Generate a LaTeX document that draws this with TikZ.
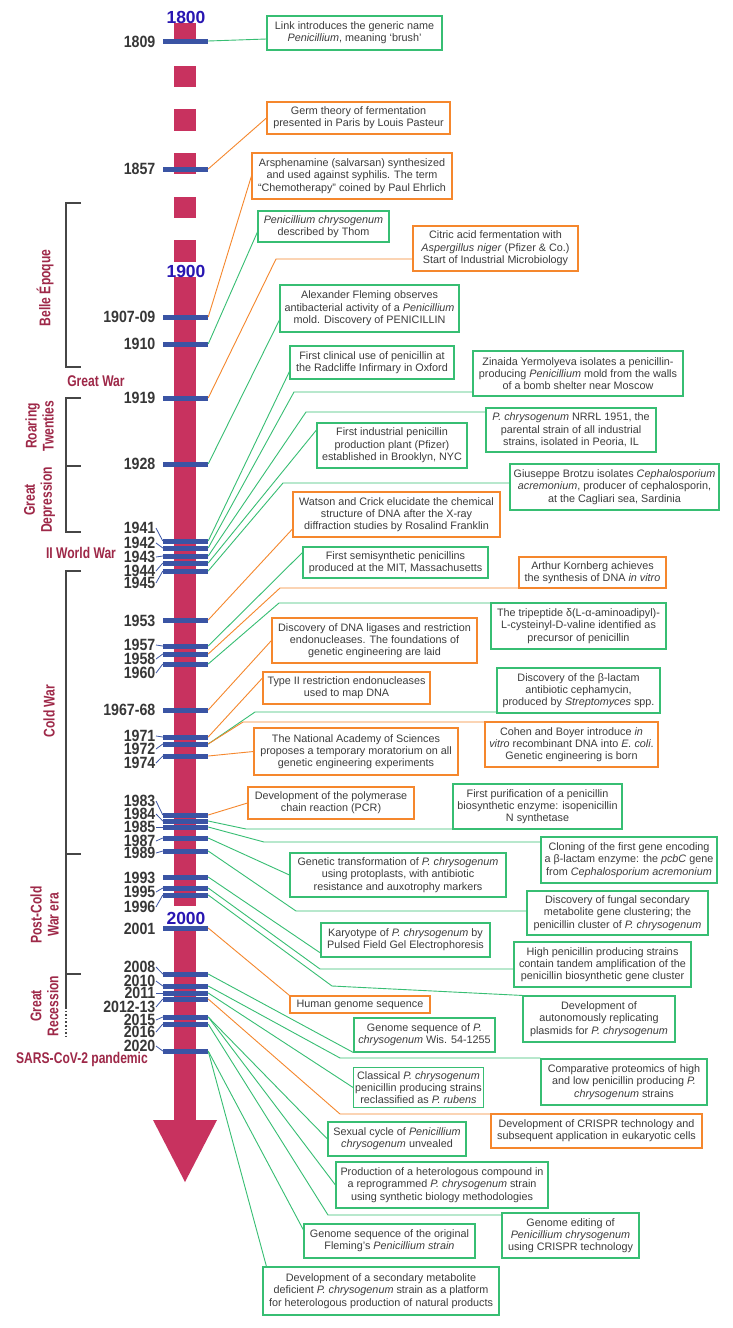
\documentclass[tikz,border=0pt]{standalone}
\usepackage{fontspec}
\setmainfont{Liberation Sans}
\newfontfamily\yrfont[FakeStretch=0.87]{Liberation Sans}
\newfontfamily\erafont[FakeStretch=0.78]{Liberation Sans}
\usetikzlibrary{calc}
\definecolor{barred}{RGB}{200,50,95}
\definecolor{tickblue}{RGB}{58,84,164}
\definecolor{yrblue}{RGB}{40,22,178}
\definecolor{gcol}{RGB}{55,190,115}
\definecolor{ocol}{RGB}{245,135,45}
\definecolor{txt}{RGB}{60,60,60}
\definecolor{yrtxt}{RGB}{55,55,55}
\definecolor{eracol}{RGB}{158,40,72}
\definecolor{brkcol}{RGB}{70,70,70}
\begin{document}
\begin{tikzpicture}[x=1pt,y=-1pt,
  gbox/.style={draw=gcol, line width=1.1pt, fill=white, align=center, text=txt, font=\fontsize{10.8}{12.3}\selectfont, inner sep=1.5pt},
  obox/.style={gbox, draw=ocol},
  gline/.style={draw=gcol, line width=0.9pt},
  oline/.style={draw=ocol, line width=0.9pt},
  tickbar/.style={fill=tickblue, draw=none, rectangle, minimum width=45pt, minimum height=5pt, inner sep=0pt},
  yearlab/.style={anchor=east, inner xsep=0.5pt, inner ysep=0pt, text height=11pt, text depth=0pt, text=yrtxt, font=\yrfont\bfseries\fontsize{16.3}{17}\selectfont},
  centlab/.style={text=yrblue, inner sep=0pt, font=\bfseries\fontsize{17.5}{18}\selectfont},
  eralab/.style={text=eracol, inner sep=0pt, align=center, font=\erafont\bfseries\fontsize{15.5}{17}\selectfont},
  leader/.style={draw=tickblue, line width=0.8pt},
  brk/.style={draw=brkcol, line width=2pt}
]
\fill[white] (0,0) rectangle (733,1328);
\useasboundingbox (0,0) rectangle (733,1328);

% ---- time bar ----
\foreach \a/\b in {23/43,66/87,109/131,153/174,197/218,240/262}
  \fill[barred] (174,\a) rectangle (196,\b);
\fill[barred] (174,277) rectangle (196,906);
\fill[barred] (174,927) rectangle (196,1121);
\fill[barred] (153,1120) -- (217,1120) -- (185,1182) -- cycle;

\node[centlab] (c1800) at (186,17) {1800};
\node[centlab] (c1900) at (186,271) {1900};
\node[centlab] (c2000) at (186,918) {2000};

% ---- era brackets ----
\draw[brk] (81,203) -- (66,203) -- (66,367) -- (81,367);
\draw[brk] (81,398) -- (66,398) -- (66,532) -- (81,532);
\draw[brk] (66,466) -- (81,466);
\draw[brk] (81,571) -- (66,571) -- (66,1007);
\draw[brk] (66,854) -- (81,854);
\draw[brk] (66,974) -- (81,974);
\draw[draw=brkcol, line width=1.6pt, dotted] (66,1007) -- (66,1039);

\node[eralab, rotate=90] (eBelle) at (45,288) {Belle Époque};
\node[eralab] (eGW) at (96,381) {Great War};
\node[eralab, rotate=90] (eRoar) at (39.5,426) {Roaring\\Twenties};
\node[eralab, rotate=90] (eDep) at (39.5,500) {Great\\Depression};
\node[eralab] (eWW) at (81,553) {II World War};
\node[eralab, rotate=90] (eCold) at (49,711) {Cold War};
\node[eralab, rotate=90] (ePost) at (44.5,915) {Post-Cold\\War era};
\node[eralab, rotate=90] (eRec) at (44.5,1006) {Great\\Recession};
\node[eralab] (eSars) at (82,1059) {SARS-CoV-2 pandemic};

% ---- ticks ----
\foreach \n/\y in {1809/41,1857/169,1907/317,1910/344,1919/398,1928/464,
  1941/541,1942/548,1943/556,1944/563,1945/571,1953/620,1957/646,1958/654,1960/664,
  1967/710,1971/737,1972/744,1974/756,1983/815,1984/821,1985/827,1987/838,1989/851,
  1993/877,1995/888,1996/895,2001/928,2008/974,2010/986,2011/993,2012/999,
  2015/1017,2016/1024,2020/1051}
  \node[tickbar] (t\n) at (185.5,\y) {};

% ---- year labels ----
\foreach \n/\t/\y in {1809/1809/42,1857/1857/169,1907/1907-09/317,1910/1910/344,1919/1919/398,1928/1928/464,
  1941/1941/528,1942/1942/543,1943/1943/557,1944/1944/571,1945/1945/583,1953/1953/621,
  1957/1957/645,1958/1958/659,1960/1960/673,1967/1967-68/710,1971/1971/736,1972/1972/749,1974/1974/763,
  1983/1983/801,1984/1984/814,1985/1985/827,1987/1987/841,1989/1989/853,
  1993/1993/878,1995/1995/892,1996/1996/907,2001/2001/929,
  2008/2008/967,2010/2010/981,2011/2011/993,2012/2012-13/1007,2015/2015/1020,2016/2016/1032,2020/2020/1046}
  \node[yearlab] (l\n) at (156,\y) {\t};

\foreach \n in {1941,1942,1943,1944,1945,1957,1958,1960,1971,1972,1974,1983,1984,1985,1987,1989,1995,1996,2008,2010,2011,2012,2015,2016,2020}
  \draw[leader] (l\n.east) -- (t\n.west);

% ---- boxes ----
\node[gbox, minimum width=175, minimum height=34] (b1) at (354.5,33) {Link introduces the generic name\\\textit{Penicillium}, meaning ‘brush’};
\node[obox, minimum width=183, minimum height=32] (b2) at (358.5,118) {Germ theory of fermentation\\presented in Paris by Louis Pasteur};
\node[obox, minimum width=200, minimum height=46] (b3) at (352,176) {Arsphenamine (salvarsan) synthesized\\and used against syphilis. The term\\“Chemotherapy” coined by Paul Ehrlich};
\node[gbox, minimum width=131, minimum height=31] (b4) at (323.5,226.5) {\textit{Penicillium chrysogenum}\\described by Thom};
\node[obox, minimum width=165, minimum height=45] (b5) at (495.5,248.5) {Citric acid fermentation with\\\textit{Aspergillus niger} (Pfizer \& Co.)\\Start of Industrial Microbiology};
\node[gbox, minimum width=179, minimum height=47] (b6) at (369.5,308.5) {Alexander Fleming observes\\antibacterial activity of a \textit{Penicillium}\\mold. Discovery of PENICILLIN};
\node[gbox, minimum width=164, minimum height=33] (b7) at (372,362.5) {First clinical use of penicillin at\\the Radcliffe Infirmary in Oxford};
\node[gbox, minimum width=210, minimum height=45] (b8) at (578,373.5) {Zinaida Yermolyeva isolates a penicillin-\\producing \textit{Penicillium} mold from the walls\\of a bomb shelter near Moscow};
\node[gbox, minimum width=170, minimum height=44] (b9) at (571,430) {\textit{P. chrysogenum} NRRL 1951, the\\parental strain of all industrial\\strains, isolated in Peoria, IL};
\node[gbox, minimum width=150, minimum height=45] (b10) at (392,445.5) {First industrial penicillin\\production plant (Pfizer)\\established in Brooklyn, NYC};
\node[gbox, minimum width=209, minimum height=46] (b11) at (614.5,487) {Giuseppe Brotzu isolates \textit{Cephalosporium}\\\textit{acremonium}, producer of cephalosporin,\\at the Cagliari sea, Sardinia};
\node[obox, minimum width=207, minimum height=45] (b12) at (396.5,514.5) {Watson and Crick elucidate the chemical\\structure of DNA after the X-ray\\diffraction studies by Rosalind Franklin};
\node[gbox, minimum width=185, minimum height=31] (b13) at (395.5,562.5) {First semisynthetic penicillins\\produced at the MIT, Massachusetts};
\node[obox, minimum width=147, minimum height=31] (b14) at (592.5,572.5) {Arthur Kornberg achieves\\the synthesis of DNA \textit{in vitro}};
\node[gbox, minimum width=175, minimum height=46] (b15) at (578.5,626) {The tripeptide δ(L-α-aminoadipyl)-\\L-cysteinyl-D-valine identified as\\precursor of penicillin};
\node[obox, minimum width=205, minimum height=45] (b16) at (374.5,640.5) {Discovery of DNA ligases and restriction\\endonucleases. The foundations of\\genetic engineering are laid};
\node[obox, minimum width=167, minimum height=32] (b17) at (346.5,688) {Type II restriction endonucleases\\used to map DNA};
\node[gbox, minimum width=163, minimum height=45] (b18) at (578.5,690.5) {Discovery of the β-lactam\\antibiotic cephamycin,\\produced by \textit{Streptomyces} spp.};
\node[obox, minimum width=173, minimum height=45] (b19) at (571.5,744.5) {Cohen and Boyer introduce \textit{in}\\\textit{vitro} recombinant DNA into \textit{E. coli}.\\Genetic engineering is born};
\node[obox, minimum width=204, minimum height=47] (b20) at (356,751.5) {The National Academy of Sciences\\proposes a temporary moratorium on all\\genetic engineering experiments};
\node[obox, minimum width=166, minimum height=32] (b21) at (331,803) {Development of the polymerase\\chain reaction (PCR)};
\node[gbox, minimum width=169, minimum height=45] (b22) at (537.5,806.5) {First purification of a penicillin\\biosynthetic enzyme: isopenicillin\\N synthetase};
\node[gbox, minimum width=176, minimum height=46] (b23) at (629,860) {Cloning of the first gene encoding\\a β-lactam enzyme: the \textit{pcbC} gene\\from \textit{Cephalosporium acremonium}};
\node[gbox, minimum width=216, minimum height=44] (b24) at (398,875) {Genetic transformation of \textit{P. chrysogenum}\\using protoplasts, with antibiotic\\resistance and auxotrophy markers};
\node[gbox, minimum width=181, minimum height=44] (b25) at (617.5,913) {Discovery of fungal secondary\\metabolite gene clustering; the\\penicillin cluster of \textit{P. chrysogenum}};
\node[gbox, minimum width=169, minimum height=34] (b26) at (405.5,940) {Karyotype of \textit{P. chrysogenum} by\\Pulsed Field Gel Electrophoresis};
\node[gbox, minimum width=177, minimum height=45] (b27) at (602.5,964.5) {High penicillin producing strains\\contain tandem amplification of the\\penicillin biosynthetic gene cluster};
\node[gbox, minimum width=152, minimum height=46] (b28) at (599,1019) {Development of\\autonomously replicating\\plasmids for \textit{P. chrysogenum}};
\node[obox, minimum width=140, minimum height=17] (b29) at (360,1004.5) {Human genome sequence};
\node[gbox, minimum width=141, minimum height=34] (b30) at (424.5,1035) {Genome sequence of \textit{P.}\\\textit{chrysogenum} Wis. 54-1255};
\node[gbox, minimum width=166, minimum height=46] (b31) at (624,1082) {Comparative proteomics of high\\and low penicillin producing \textit{P.}\\\textit{chrysogenum} strains};
\node[gbox, minimum width=123, minimum height=40] (b32) at (418.5,1087.5) {Classical \textit{P. chrysogenum}\\penicillin producing strains\\reclassified as \textit{P. rubens}};
\node[obox, minimum width=211, minimum height=34] (b33) at (596.5,1131) {Development of CRISPR technology and\\subsequent application in eukaryotic cells};
\node[gbox, minimum width=138, minimum height=34] (b34) at (397,1139) {Sexual cycle of \textit{Penicillium}\\\textit{chrysogenum} unvealed};
\node[gbox, minimum width=212, minimum height=46] (b35) at (442,1185) {Production of a heterologous compound in\\a reprogrammed \textit{P. chrysogenum} strain\\using synthetic biology methodologies};
\node[gbox, minimum width=137, minimum height=45] (b36) at (570.5,1235.5) {Genome editing of\\\textit{Penicillium chrysogenum}\\using CRISPR technology};
\node[gbox, minimum width=171, minimum height=34] (b37) at (389.5,1241) {Genome sequence of the original\\Fleming’s \textit{Penicillium strain}};
\node[gbox, minimum width=236, minimum height=48] (b38) at (381,1291) {Development of a secondary metabolite\\deficient \textit{P. chrysogenum} strain as a platform\\for heterologous production of natural products};

% ---- connectors ----
\draw[gline] (t1809.east) -- ([yshift=-6pt]b1.west);
\draw[oline] (t1857.east) -- (b2.west);
\draw[oline] (t1907.east) -- (b3.west);
\draw[gline] (t1910.east) -- ([yshift=-5.5pt]b4.west);
\coordinate (k5) at (276,259);
\draw[oline] (t1919.east) -- (k5) -- (k5 -| b5.west);
\draw[gline] (t1928.east) -- ([yshift=-11.5pt]b6.west);
\draw[gline] (t1941.east) -- ([yshift=-9pt]b7.west);
\coordinate (k8) at (294,392);
\draw[gline] (t1942.east) -- (k8) -- (k8 -| b8.west);
\coordinate (k9) at (306,412);
\draw[gline] (t1943.east) -- (k9) -- (k9 -| b9.west);
\draw[gline] (t1944.east) -- ([yshift=15.5pt]b10.west);
\coordinate (k11) at (283,483);
\draw[gline] (t1945.east) -- (k11) -- (k11 -| b11.west);
\draw[oline] (t1953.east) -- ([yshift=-14.5pt]b12.west);
\draw[gline] (t1957.east) -- ([yshift=10pt]b13.west);
\coordinate (k14) at (280,588);
\draw[oline] (t1958.east) -- (k14) -- (k14 -| b14.west);
\coordinate (k15) at (279,603);
\draw[gline] (t1960.east) -- (k15) -- (k15 -| b15.west);
\draw[oline] (t1967.east) -- (b16.west);
\draw[oline] (t1971.east) -- ([yshift=10pt]b17.west);
\coordinate (k18) at (255,712);
\draw[gline] (t1972.east) -- (k18) -- (k18 -| b18.west);
\coordinate (k19) at (243,722);
\draw[oline] (t1972.east) -- (k19) -- (k19 -| b19.west);
\draw[oline] (t1974.east) -- (b20.west);
\draw[oline] (t1983.east) -- (b21.west);
\coordinate (k22) at (246,829);
\draw[gline] (t1984.east) -- (k22) -- (k22 -| b22.west);
\coordinate (k23) at (264,842);
\draw[gline] (t1985.east) -- (k23) -- (k23 -| b23.west);
\draw[gline] (t1987.east) -- (b24.west);
\coordinate (k25) at (296,911);
\draw[gline] (t1989.east) -- (k25) -- (k25 -| b25.west);
\draw[gline] (t1993.east) -- ([yshift=-13pt]b26.west);
\coordinate (k27) at (320,969);
\draw[gline] (t1995.east) -- (k27) -- (k27 -| b27.west);
\coordinate (k28) at (332,986);
\draw[gline] (t1996.east) -- (k28) -- (b28.north west);
\draw[oline] (t2001.east) -- (b29.north west);
\draw[gline] (t2008.east) -- (b30.south west);
\coordinate (k31) at (340,1058);
\draw[gline] (t2010.east) -- (k31) -- (k31 -| b31.west);
\draw[gline] (t2011.east) -- (b32.west);
\coordinate (k33) at (340,1114);
\draw[oline] (t2012.east) -- (k33) -- (k33 -| b33.west);
\draw[gline] (t2015.east) -- (b34.west);
\draw[gline] (t2015.east) -- (b35.west);
\coordinate (k36) at (328,1215);
\draw[gline] (t2016.east) -- (k36) -- (k36 -| b36.west);
\draw[gline] (t2020.east) -- ([yshift=11pt]b37.west);
\draw[gline] (t2020.east) -- ([xshift=4pt]b38.north west);
\end{tikzpicture}
\end{document}
